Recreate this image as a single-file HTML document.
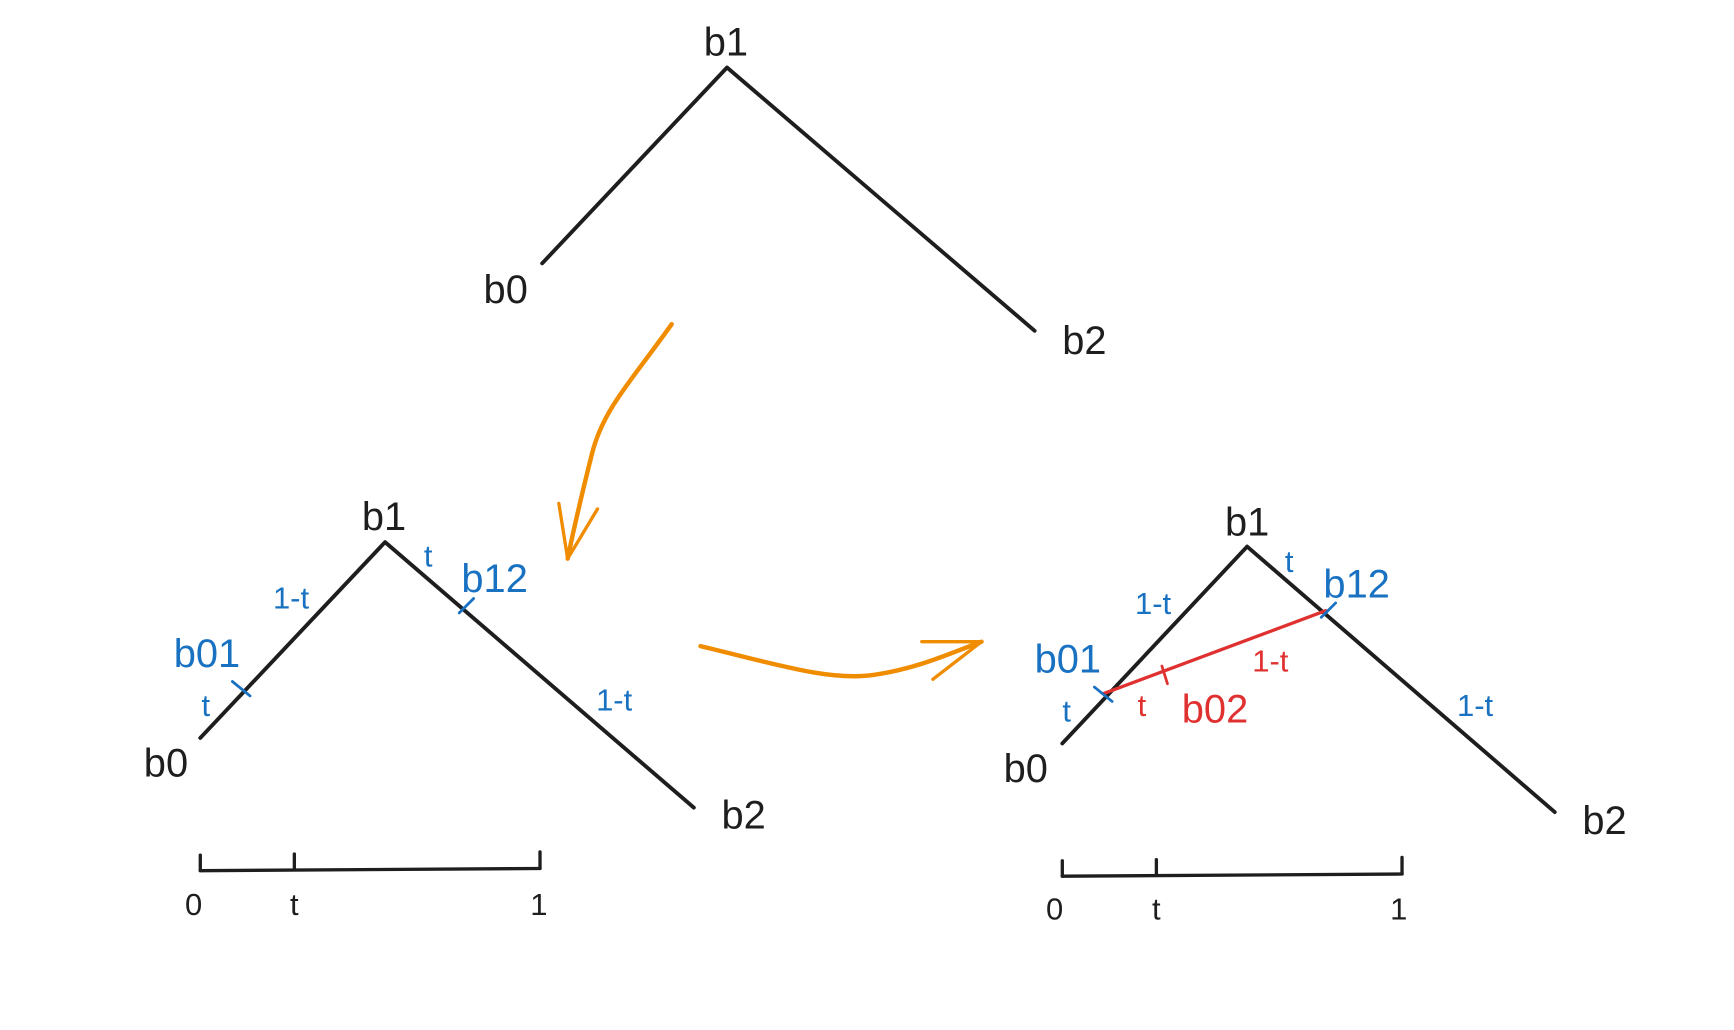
<!DOCTYPE html>
<html><head><meta charset="utf-8"><style>
html,body{margin:0;padding:0;background:#fff;}
svg{display:block;}
text{font-family:"Liberation Sans",sans-serif;}
</style></head><body>
<svg width="1734" height="1030" viewBox="0 0 1567 931" preserveAspectRatio="none" xmlns="http://www.w3.org/2000/svg">
<g fill="none" stroke-linecap="round" stroke-linejoin="round">
<polyline points="490,238 657,61 935,299" stroke="#1e1e1e" stroke-width="3.5"/>
<path d="M607,293 C570,345 545,370 535,410 C525,450 518,480 513,505" stroke="#f08c00" stroke-width="4"/>
<polyline points="505,455 513,505 540,460" stroke="#f08c00" stroke-width="3"/>
<polyline points="181,667 348,490 627,730" stroke="#1e1e1e" stroke-width="3.5"/>
<line x1="210" y1="616" x2="226" y2="629" stroke="#1971c2" stroke-width="2.5"/>
<line x1="415" y1="554" x2="428" y2="541" stroke="#1971c2" stroke-width="2.5"/>
<polyline points="181,787 488,785" stroke="#1e1e1e" stroke-width="3"/>
<line x1="181" y1="773" x2="181" y2="787" stroke="#1e1e1e" stroke-width="3"/>
<line x1="266" y1="772" x2="266" y2="786" stroke="#1e1e1e" stroke-width="3"/>
<line x1="488" y1="770" x2="488" y2="785" stroke="#1e1e1e" stroke-width="3"/>
<path d="M633,584 C700,600 750,616 790,610 C830,604 860,590 887,580" stroke="#f08c00" stroke-width="4"/>
<polyline points="833,580 887,580 843,614" stroke="#f08c00" stroke-width="3"/>
<polyline points="960,672 1127,494 1405,734" stroke="#1e1e1e" stroke-width="3.5"/>
<line x1="997" y1="627" x2="1198" y2="552" stroke="#e03131" stroke-width="3"/>
<line x1="1050" y1="602" x2="1055" y2="618" stroke="#e03131" stroke-width="2.5"/>
<line x1="989" y1="621" x2="1005" y2="634" stroke="#1971c2" stroke-width="2.5"/>
<line x1="1194" y1="558" x2="1207" y2="545" stroke="#1971c2" stroke-width="2.5"/>
<polyline points="960,792 1267,790" stroke="#1e1e1e" stroke-width="3"/>
<line x1="960" y1="778" x2="960" y2="792" stroke="#1e1e1e" stroke-width="3"/>
<line x1="1045" y1="777" x2="1045" y2="791" stroke="#1e1e1e" stroke-width="3"/>
<line x1="1267" y1="775" x2="1267" y2="790" stroke="#1e1e1e" stroke-width="3"/>
</g>
<g text-anchor="middle" font-size="36" fill="#1e1e1e">
<text x="656" y="50">b1</text>
<text x="457" y="274">b0</text>
<text x="980" y="320">b2</text>
<text x="347" y="479">b1</text>
<text x="150" y="702">b0</text>
<text x="672" y="749">b2</text>
<text x="1127" y="484">b1</text>
<text x="927" y="707">b0</text>
<text x="1450" y="754">b2</text>
</g>
<g text-anchor="middle" font-size="28" fill="#1e1e1e">
<text x="175" y="827">0</text><text x="266" y="827">t</text><text x="487" y="827">1</text>
<text x="953" y="831">0</text><text x="1045" y="831">t</text><text x="1264" y="831">1</text>
</g>
<g text-anchor="middle" fill="#1971c2">
<text x="263" y="550" font-size="28">1-t</text>
<text x="187" y="603" font-size="36">b01</text>
<text x="186" y="647" font-size="28">t</text>
<text x="387" y="512" font-size="28">t</text>
<text x="447" y="535" font-size="36">b12</text>
<text x="555" y="642" font-size="28">1-t</text>
<text x="1042" y="555" font-size="28">1-t</text>
<text x="965" y="608" font-size="36">b01</text>
<text x="964" y="652" font-size="28">t</text>
<text x="1165" y="517" font-size="28">t</text>
<text x="1226" y="540" font-size="36">b12</text>
<text x="1333" y="647" font-size="28">1-t</text>
</g>
<g text-anchor="middle" fill="#e03131">
<text x="1032" y="647" font-size="28">t</text>
<text x="1098" y="653" font-size="36">b02</text>
<text x="1148" y="607" font-size="28">1-t</text>
</g>
</svg>
</body></html>
